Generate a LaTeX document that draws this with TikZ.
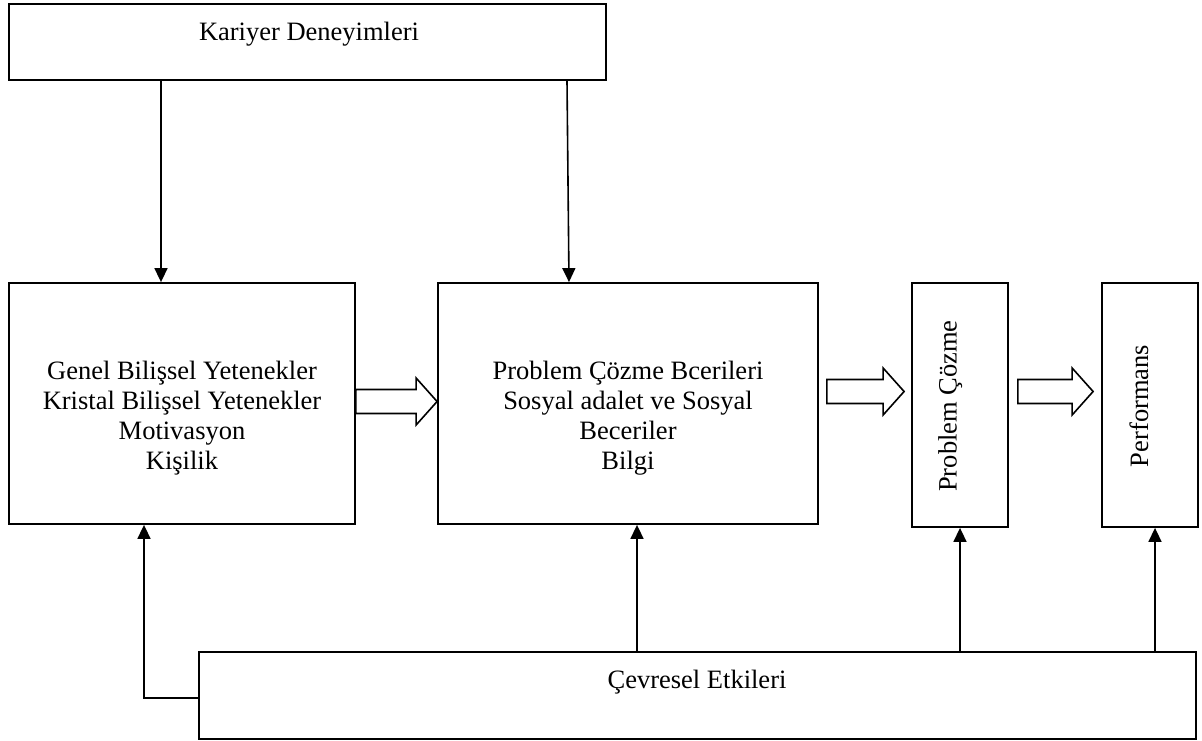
\documentclass[tikz,border=0pt]{standalone}
\usepackage{fontspec}
\setmainfont{Liberation Serif}
\usetikzlibrary{arrows.meta,calc}

% Hollow block arrow from a tail point to a tip point on the same height
\newcommand{\hollowarrow}[2]{%
  \draw[blockarrow] ($(#1)+(0,-12)$) -- ($(#2)+(-21,-12)$) -- ($(#2)+(-21,-23.5)$)
    -- (#2) -- ($(#2)+(-21,23.5)$) -- ($(#2)+(-21,12)$) -- ($(#1)+(0,12)$) -- cycle;}

\begin{document}
\begin{tikzpicture}[x=1pt,y=-1pt,
  box/.style={draw, line width=1.8pt, inner sep=0pt, fill=white},
  txt/.style={font=\fontsize{26.5}{30}\selectfont, align=center, inner sep=0pt},
  conn/.style={line width=1.6pt, -{Triangle[length=14pt,width=13pt]}},
  blockarrow/.style={line width=1.6pt, fill=white, line join=miter}]

\fill[white] (0,0) rectangle (1202,741);
\useasboundingbox (0,0) rectangle (1202,741);

% boxes
\node[box, minimum width=597pt, minimum height=76pt]  (K) at (307.5,42) {};
\node[box, minimum width=346pt, minimum height=241pt] (L) at (182,403.5) {};
\node[box, minimum width=380pt, minimum height=241pt] (M) at (628,403.5) {};
\node[box, minimum width=96pt,  minimum height=244pt] (P) at (960,405) {};
\node[box, minimum width=96pt,  minimum height=244pt] (F) at (1150,405) {};
\node[box, minimum width=997pt, minimum height=87pt]  (E) at (697.5,695.5) {};

% texts
\node[txt, anchor=base] (Kt) at (309,41) {Kariyer Deneyimleri};
\node[txt] (Lt) at (182,418.5) {Genel Bilişsel Yetenekler\\Kristal Bilişsel Yetenekler\\Motivasyon\\Kişilik};
\node[txt] (Mt) at (628,418.5) {Problem Çözme Bcerileri\\Sosyal adalet ve Sosyal\\Beceriler\\Bilgi};
\node[txt, rotate=90, anchor=base] (Pt) at (956.5,406) {Problem Çözme};
\node[txt, rotate=90, anchor=base] (Ft) at (1148,406) {Performans};
\node[txt, anchor=base] (Et) at (697,688) {Çevresel Etkileri};

% helper coordinates for connector columns and rows
\coordinate (x1) at (161,0);
\coordinate (x2) at (567,0);
\coordinate (x2b) at (569,0);
\coordinate (x3) at (144,0);
\coordinate (x4) at (637,0);
\coordinate (x5) at (960,0);
\coordinate (x6) at (1155,0);
\coordinate (yh) at (0,698);
\coordinate (ya) at (0,401.5);
\coordinate (yb) at (0,391.5);

% connectors
\draw[conn] (K.south -| x1) -- (L.north -| x1);
\draw[conn] (K.south -| x2) -- (M.north -| x2b);
\draw[conn] (E.west |- yh) -| (L.south -| x3);
\draw[conn] (E.north -| x4) -- (M.south -| x4);
\draw[conn] (E.north -| x5) -- (P.south -| x5);
\draw[conn] (E.north -| x6) -- (F.south -| x6);

% block arrows
\coordinate (a1s) at (L.east |- ya);
\coordinate (a1e) at (M.west |- ya);
\coordinate (a2s) at ($(M.east |- yb)+(8,0)$);
\coordinate (a2e) at ($(P.west |- yb)+(-7,0)$);
\coordinate (a3s) at ($(P.east |- yb)+(9,0)$);
\coordinate (a3e) at ($(F.west |- yb)+(-8,0)$);
\hollowarrow{a1s}{a1e}
\hollowarrow{a2s}{a2e}
\hollowarrow{a3s}{a3e}

\end{tikzpicture}
\end{document}
